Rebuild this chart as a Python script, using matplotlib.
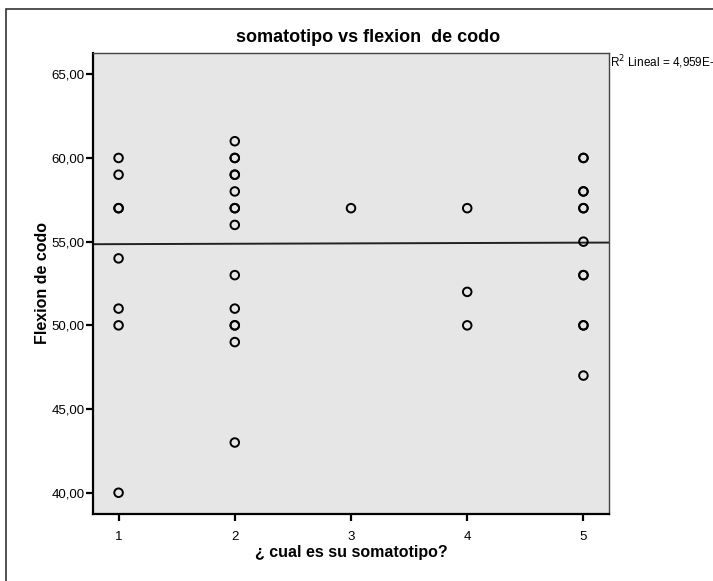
import numpy as np
import matplotlib
matplotlib.use("Agg")
import matplotlib.pyplot as plt
from matplotlib.patches import Rectangle
from matplotlib.ticker import FuncFormatter

# somatotype category (1-5) and elbow flexion score per subject
somatotipo_1 = [60, 59, 57, 57, 54, 51, 50, 40]
somatotipo_2 = [61, 60, 60, 59, 59, 58, 57, 57, 56, 53, 51, 50, 50, 49, 43]
somatotipo_3 = [57]
somatotipo_4 = [57, 52, 50]
somatotipo_5 = [60, 60, 58, 58, 57, 57, 55, 53, 53, 50, 50, 47]
groups = [somatotipo_1, somatotipo_2, somatotipo_3, somatotipo_4, somatotipo_5]

# linear fit as reported in the output
fit_intercept = 54.83
fit_slope = 0.022
r2_label = "R$^2$ Lineal = 4,959E-4"

x_ticks = [1, 2, 3, 4, 5]
y_ticks = [40, 45, 50, 55, 60, 65]

x_vals = np.concatenate([[k] * len(g) for k, g in zip(x_ticks, groups)])
y_vals = np.concatenate(groups)

plt.rcParams['font.family'] = ['Liberation Sans', 'DejaVu Sans']

W, H = 713, 581
fig = plt.figure(figsize=(W / 100, H / 100), dpi=100)
fig.patch.set_facecolor('white')

# outer frame of the chart window (right and bottom run off the page)
fig.patches.append(Rectangle((6 / W, -0.1), 1.2, 1 - 9 / H + 0.1, transform=fig.transFigure,
                             fill=False, edgecolor='#333333', linewidth=1.2))

left, right, top, bottom = 93, 609, 53, 514
ax = fig.add_axes([left / W, 1 - bottom / H, (right - left) / W, (bottom - top) / H])
ax.set_facecolor('#e6e6e6')

ax.scatter(x_vals, y_vals, s=38, facecolors='none', edgecolors='black', linewidths=1.4, zorder=3)

xlim = (0.78, 5.22)
xs = np.array(xlim)
ax.plot(xs, fit_intercept + fit_slope * xs, color='#222222', linewidth=1.4, zorder=2)

ax.set_xlim(*xlim)
ax.set_ylim(38.73, 66.27)
ax.set_xticks(x_ticks)
ax.set_yticks(y_ticks)
ax.yaxis.set_major_formatter(FuncFormatter(lambda v, p: f"{v:.2f}".replace('.', ',')))

for side in ['top', 'right']:
    ax.spines[side].set_linewidth(1.0)
    ax.spines[side].set_color('#444444')
for side in ['left', 'bottom']:
    ax.spines[side].set_linewidth(1.6)
    ax.spines[side].set_color('black')
ax.tick_params(axis='both', direction='out', length=5, width=1.6, labelsize=9.5, colors='black', pad=1)
ax.tick_params(axis='x', pad=7)

ax.set_xlabel("¿ cual es su somatotipo?", fontsize=11.5, fontweight='bold', labelpad=2)
ax.set_ylabel("Flexion de codo", fontsize=11.5, fontweight='bold', labelpad=1)

fig.text(368 / W, 1 - 38 / H, "somatotipo vs flexion  de codo", ha='center', va='center',
         fontsize=13, fontweight='bold')
fig.text(610 / W, 1 - 62 / H, r2_label, ha='left', va='center', fontsize=8.5)

fig.savefig("out.png", dpi=100)
